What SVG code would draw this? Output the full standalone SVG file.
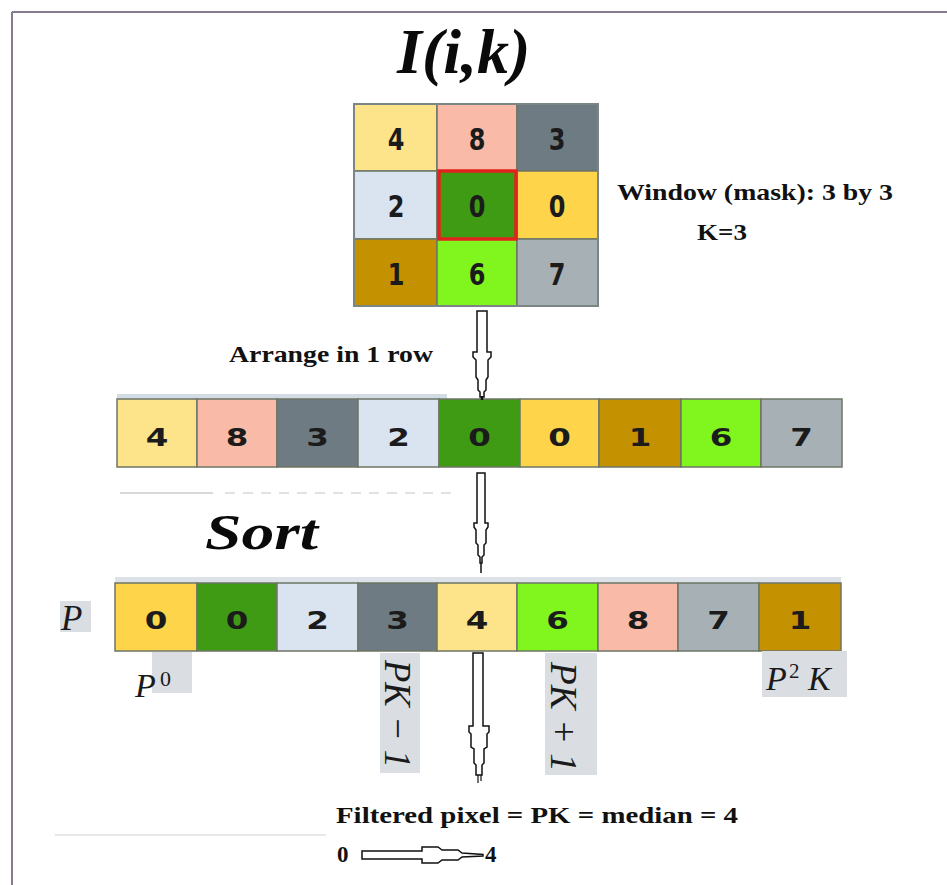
<svg xmlns="http://www.w3.org/2000/svg" width="947" height="885" viewBox="0 0 947 885">
<style>
.cell{stroke:#6e7565;stroke-width:1.5}
.dg{font-family:"DejaVu Sans",Verdana,sans-serif;font-weight:bold;font-size:30px;fill:#1b1b1b;text-anchor:middle}
.dr{font-family:"DejaVu Sans",Verdana,sans-serif;font-weight:bold;font-size:25px;fill:#1b1b1b;text-anchor:middle}
.lbl{font-family:"Liberation Serif","Times New Roman",serif;font-weight:bold;font-size:23px;fill:#111}
.big{font-family:"Liberation Serif","Times New Roman",serif;font-weight:bold;font-style:italic;fill:#0a0a0a}
.math{font-family:"Liberation Serif","Times New Roman",serif;font-style:italic;fill:#1a1a1a}
.bg{fill:#dadee2}
.arr{fill:#fff;stroke:#111;stroke-width:1.5;stroke-linejoin:miter}
.c1{fill:#fde38a}.c2{fill:#f9bba7}.c3{fill:#6f7b82}.c4{fill:#d9e4f0}.c5{fill:#3f9a14}.c6{fill:#fed54a}.c7{fill:#c49100}.c8{fill:#80f51e}.c9{fill:#a7b1b5}
</style>
<rect width="947" height="885" fill="#fff"/>
<g id="frame" stroke="#857a8f" stroke-width="2" fill="none">
<line x1="12" y1="12" x2="947" y2="12"/>
<line x1="12" y1="12" x2="12" y2="885"/>
</g>
<g id="artifacts" fill="none">
<rect x="117" y="394" width="330" height="5" fill="#d3dbe4"/>
<rect x="115" y="577" width="726" height="6" fill="#dde2e8"/>
<line x1="120" y1="493" x2="213" y2="493" stroke="#d8d8d8" stroke-width="2"/>
<line x1="225" y1="493" x2="452" y2="493" stroke="#e2e2e2" stroke-width="2" stroke-dasharray="10 8"/>
<line x1="55" y1="835" x2="326" y2="835" stroke="#e8e8e8" stroke-width="2"/>
</g>
<g id="title"><text class="big" x="397" y="73" font-size="64">I(i,k)</text></g>
<g id="grid">
<g id="g11"><rect class="cell c1" x="354" y="104" width="83" height="67"/><text class="dg" transform="translate(396,150) scale(0.8,1)">4</text></g>
<g id="g12"><rect class="cell c2" x="437" y="104" width="80" height="67"/><text class="dg" transform="translate(477,150) scale(0.8,1)">8</text></g>
<g id="g13"><rect class="cell c3" x="517" y="104" width="81" height="67"/><text class="dg" transform="translate(557,150) scale(0.8,1)">3</text></g>
<g id="g21"><rect class="cell c4" x="354" y="171" width="83" height="68"/><text class="dg" transform="translate(396,217) scale(0.8,1)">2</text></g>
<g id="g22"><rect class="cell c5" x="437" y="171" width="80" height="68"/><text class="dg" transform="translate(477,217) scale(0.8,1)">0</text></g>
<g id="g23"><rect class="cell c6" x="517" y="171" width="81" height="68"/><text class="dg" transform="translate(557,217) scale(0.8,1)">0</text></g>
<g id="g31"><rect class="cell c7" x="354" y="239" width="83" height="67"/><text class="dg" transform="translate(396,285) scale(0.8,1)">1</text></g>
<g id="g32"><rect class="cell c8" x="437" y="239" width="80" height="67"/><text class="dg" transform="translate(477,285) scale(0.8,1)">6</text></g>
<g id="g33"><rect class="cell c9" x="517" y="239" width="81" height="67"/><text class="dg" transform="translate(557,285) scale(0.8,1)">7</text></g>
<rect x="354" y="104" width="244" height="202" fill="none" stroke="#7c8585" stroke-width="2"/>
<rect id="mask-center" x="439" y="171" width="77" height="68" fill="none" stroke="#e2231d" stroke-width="3.5"/>
</g>
<g id="window-label">
<text class="lbl" x="617" y="200" textLength="276" lengthAdjust="spacingAndGlyphs">Window (mask): 3 by 3</text>
<text class="lbl" x="697" y="240" textLength="50" lengthAdjust="spacingAndGlyphs">K=3</text>
</g>
<g id="arrange-label"><text class="lbl" x="229" y="362" textLength="204" lengthAdjust="spacingAndGlyphs">Arrange in 1 row</text></g>
<g id="row">
<g id="r1"><rect class="cell c1" x="117" y="399" width="80" height="68"/><text class="dr" transform="translate(157,446) scale(1.3,1)">4</text></g>
<g id="r2"><rect class="cell c2" x="197" y="399" width="80" height="68"/><text class="dr" transform="translate(237,446) scale(1.3,1)">8</text></g>
<g id="r3"><rect class="cell c3" x="277" y="399" width="81" height="68"/><text class="dr" transform="translate(317.5,446) scale(1.3,1)">3</text></g>
<g id="r4"><rect class="cell c4" x="358" y="399" width="81" height="68"/><text class="dr" transform="translate(398.5,446) scale(1.3,1)">2</text></g>
<g id="r5"><rect class="cell c5" x="439" y="399" width="81" height="68"/><text class="dr" transform="translate(479.5,446) scale(1.3,1)">0</text></g>
<g id="r6"><rect class="cell c6" x="520" y="399" width="79" height="68"/><text class="dr" transform="translate(559.5,446) scale(1.3,1)">0</text></g>
<g id="r7"><rect class="cell c7" x="599" y="399" width="82" height="68"/><text class="dr" transform="translate(640,446) scale(1.3,1)">1</text></g>
<g id="r8"><rect class="cell c8" x="681" y="399" width="80" height="68"/><text class="dr" transform="translate(721,446) scale(1.3,1)">6</text></g>
<g id="r9"><rect class="cell c9" x="761" y="399" width="81" height="68"/><text class="dr" transform="translate(801.5,446) scale(1.3,1)">7</text></g>
</g>
<g id="sort-label"><text class="big" x="205" y="549" font-size="50" textLength="113" lengthAdjust="spacingAndGlyphs">Sort</text></g>
<g id="p-label"><rect class="bg" x="60" y="601" width="31" height="31"/><text class="math" x="61" y="630" font-size="35">P</text></g>
<g id="sorted">
<g id="s1"><rect class="cell c6" x="115" y="583" width="82" height="68"/><text class="dr" transform="translate(156,629) scale(1.3,1)">0</text></g>
<g id="s2"><rect class="cell c5" x="197" y="583" width="80" height="68"/><text class="dr" transform="translate(237,629) scale(1.3,1)">0</text></g>
<g id="s3"><rect class="cell c4" x="277" y="583" width="81" height="68"/><text class="dr" transform="translate(317.5,629) scale(1.3,1)">2</text></g>
<g id="s4"><rect class="cell c3" x="358" y="583" width="79" height="68"/><text class="dr" transform="translate(397.5,629) scale(1.3,1)">3</text></g>
<g id="s5"><rect class="cell c1" x="437" y="583" width="80" height="68"/><text class="dr" transform="translate(477,629) scale(1.3,1)">4</text></g>
<g id="s6"><rect class="cell c8" x="517" y="583" width="81" height="68"/><text class="dr" transform="translate(557.5,629) scale(1.3,1)">6</text></g>
<g id="s7"><rect class="cell c2" x="598" y="583" width="80" height="68"/><text class="dr" transform="translate(638,629) scale(1.3,1)">8</text></g>
<g id="s8"><rect class="cell c9" x="678" y="583" width="81" height="68"/><text class="dr" transform="translate(718.5,629) scale(1.3,1)">7</text></g>
<g id="s9"><rect class="cell c7" x="759" y="583" width="82" height="68"/><text class="dr" transform="translate(800,629) scale(1.3,1)">1</text></g>
</g>
<g id="p0-label"><rect class="bg" x="152" y="652" width="40" height="41"/><text class="math" x="135" y="697" font-size="34">P</text><text x="160" y="686" font-family="Liberation Serif,serif" font-size="22" fill="#1a1a1a">0</text></g>
<g id="pk-1-label"><rect class="bg" x="380" y="653" width="40" height="120"/><text class="math" font-size="38" transform="translate(385,660) rotate(90)" textLength="108" lengthAdjust="spacingAndGlyphs">PK − 1</text></g>
<g id="pk+1-label"><rect class="bg" x="545" y="653" width="52" height="122"/><text class="math" font-size="38" transform="translate(551,662) rotate(90)" textLength="110" lengthAdjust="spacingAndGlyphs">PK + 1</text></g>
<g id="p2k-label"><rect class="bg" x="762" y="651" width="85" height="46"/><text class="math" x="766" y="690" font-size="34">P</text><text x="789" y="678" font-family="Liberation Serif,serif" font-size="21" fill="#1a1a1a">2</text><text class="math" x="808" y="690" font-size="34">K</text></g>
<g id="result">
<text class="lbl" x="336" y="823" font-size="26" textLength="402" lengthAdjust="spacingAndGlyphs">Filtered pixel = PK = median = 4</text>
<text class="lbl" x="337" y="862" font-size="26">0</text>
<text class="lbl" x="485" y="862" font-size="26">4</text>
</g>
<g id="connectors">
<polygon class="arr" points="477,311 487,311 487,352 491,352 491,357 488,360 488,377 486,380 486,390 484,392 484,397 480,397 480,392 478,390 478,380 476,377 476,360 473,357 473,352 477,352"/>
<line x1="482" y1="396" x2="482" y2="400" stroke="#111" stroke-width="2.5"/>
<polygon class="arr" points="477,473 485,473 485,523 488,523 488,527 486,530 486,543 484,545 484,555 482,557 482,563 480,563 480,557 478,555 478,545 476,543 476,530 474,527 474,523 477,523"/>
<line x1="481" y1="563" x2="481" y2="573" stroke="#111" stroke-width="1.5"/>
<polygon class="arr" points="473,653 483,653 483,726 489,726 489,732 487,734 487,747 484,749 484,763 482,765 482,775 476,775 476,765 474,763 474,749 471,747 471,734 469,732 469,726 473,726"/>
<line x1="478" y1="775" x2="478" y2="783" stroke="#111" stroke-width="1.2"/>
<line x1="481" y1="775" x2="481" y2="781" stroke="#111" stroke-width="1.2"/>
<polygon class="arr" points="362,851 422,851 422,847 438,847 442,850 458,850 462,853 483,854.5 483,856 462,857 458,860 442,860 438,863 422,863 422,859 362,859"/>
</g>
</svg>
